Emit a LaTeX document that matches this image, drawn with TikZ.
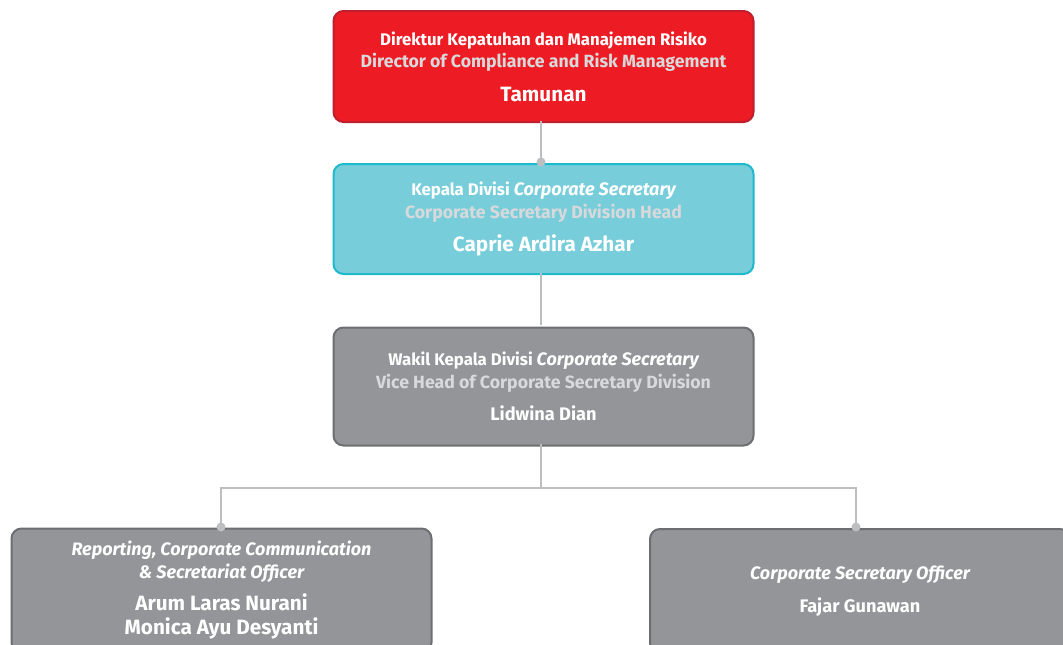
\documentclass[tikz,border=0pt]{standalone}
\usepackage{fontspec}
\setmainfont{Fira Sans}
\definecolor{redfill}{HTML}{ED1C24}
\definecolor{redline}{HTML}{BE1E2D}
\definecolor{cyanfill}{HTML}{78CDDB}
\definecolor{cyanline}{HTML}{1FB9CD}
\definecolor{grayfill}{HTML}{939598}
\definecolor{grayline}{HTML}{6D6E71}
\definecolor{conn}{HTML}{BCBEC0}
\definecolor{subtxt}{HTML}{D8D9DA}
\tikzset{
  box/.style={rectangle, rounded corners=10pt, line width=2pt, minimum width=420pt, align=center, text=white, font=\bfseries\fontsize{16.8}{22.5}\selectfont, inner sep=0pt},
  redbox/.style={box, draw=redline, fill=redfill, minimum height=111pt},
  cyanbox/.style={box, draw=cyanline, fill=cyanfill, minimum height=110pt},
  graybox/.style={box, draw=grayline, fill=grayfill, minimum height=118pt},
  lowbox/.style={box, draw=grayline, fill=grayfill, minimum height=124pt},
  conline/.style={draw=conn, line width=1.3pt},
  dot/.style={circle, fill=conn, inner sep=0pt, minimum size=9pt},
}
\newcommand{\bigname}[1]{{\fontsize{20.7}{22}\selectfont #1}}
\newcommand{\midname}[1]{{\fontsize{18.2}{22}\selectfont #1}}
\newcommand{\engl}[1]{{\fontsize{17.7}{22}\selectfont\color{subtxt}#1}}
\newcommand{\itl}[1]{{\fontsize{18}{22}\selectfont\itshape #1}}
\begin{document}
\begin{tikzpicture}[x=1pt,y=-1pt]
\useasboundingbox (0,0) rectangle (1063,645);
\clip (0,0) rectangle (1063,645);
\node[redbox, yshift=-1.5pt] (dir) at (543.5,65) {Direktur Kepatuhan dan Manajemen Risiko\\
  \engl{Director of Compliance and Risk Management}\\[11pt]
  \bigname{Tamunan}};
\node[cyanbox, yshift=-1.5pt] (head) at (543.5,217.5) {Kepala Divisi \itl{Corporate Secretary}\\
  \engl{Corporate Secretary Division Head}\\[11pt]
  \bigname{Caprie Ardira Azhar}};
\node[graybox, yshift=-2pt] (vice) at (543.5,384.5) {Wakil Kepala Divisi \itl{Corporate Secretary}\\
  \engl{Vice Head of Corporate Secretary Division}\\[10pt]
  \midname{Lidwina Dian}};
\node[lowbox, yshift=-1.5pt] (rep) at (221.5,589) {\itl{Reporting, Corporate Communication}\\
  \itl{\& Secretariat Officer}\\[10pt]
  \bigname{Arum Laras Nurani}\\[1.5pt]
  \bigname{Monica Ayu Desyanti}};
\node[lowbox, yshift=-2pt] (cso) at (860,589) {\itl{Corporate Secretary Officer}\\[10pt]
  \midname{Fajar Gunawan}};
\coordinate (c1) at (541,121);
\coordinate (c2) at (541,162);
\coordinate (c3) at (541,273);
\coordinate (vtop) at (541,325);
\coordinate (c4) at (541,444);
\coordinate (split) at (541,488);
\coordinate (lt) at (221,527);
\coordinate (rt) at (856,527);
\draw[conline] (c1) -- (c2);
\draw[conline] (c3) -- (vtop);
\draw[conline] (c4) -- (split);
\draw[conline] (lt) |- (split) -| (rt);
\node[dot] (d1) at (c2) {};
\node[dot] (d2) at (lt) {};
\node[dot] (d3) at (rt) {};
\end{tikzpicture}
\end{document}
